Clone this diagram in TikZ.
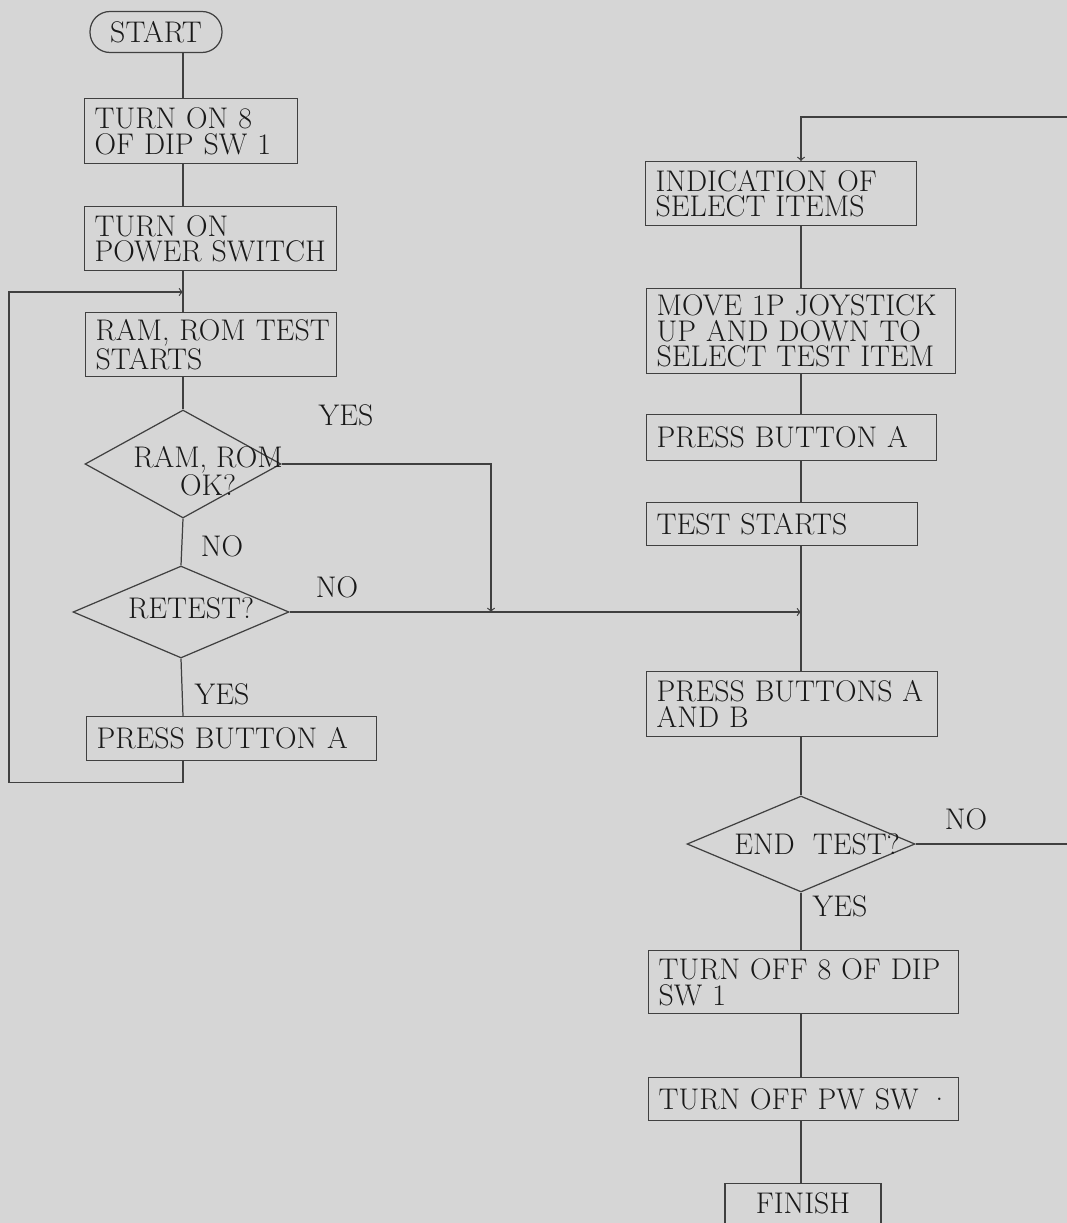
\documentclass[tikz,border=0pt]{standalone}
\usepackage{fontspec}
\usepackage{tikz}
\usetikzlibrary{shapes.geometric}

\begin{document}
\begin{tikzpicture}[
        x=0.02cm, y=-0.02cm,
        line width=0.7pt,
        every node/.style = {
            font=\fontsize{17}{14.5}\selectfont,
            text=black!90
        },
        stepbox/.style 2 args = {
            draw=black!75, anchor=north west, align=left,
            inner xsep=0.2cm, inner ysep=0pt,
            text width=#1, minimum height=#2
        },
        decision/.style 2 args = {
            draw=black!75, diamond, inner sep=0pt,
            minimum width=#1, minimum height=#2
        },
        terminal/.style = {
            draw=black!75, inner sep=0pt
        },
        answer/.style = {inner sep=1pt},
        flow/.style = {draw=black!75}]
    \path[use as bounding box, fill=black!16] (0,0) rectangle (1067,1223);
    \coordinate (lspine) at (183,0);
    \coordinate (rspine) at (801,0);

    % left column
    \node[terminal, rounded corners=0.4cm, minimum width=2.64cm, minimum height=0.82cm]
        (start) at (156,32) {START};
    \node[stepbox={3.86cm}{1.30cm}] (dipon) at (84,98) {TURN~ON~8\\OF~DIP~SW~1};
    \node[stepbox={4.64cm}{1.28cm}] (power) at (84,206) {TURN ON\\POWER~SWITCH};
    \node[stepbox={4.62cm}{1.28cm}] (romtest) at (85,312) {RAM,~ROM~TEST\\STARTS};
    \node[decision={3.92cm}{2.16cm},
        label={[align=center, xshift=0.5cm, yshift=-0.14cm]center:RAM, ROM\\OK?}]
        (romok) at (183,464) {};
    \node[decision={4.32cm}{1.84cm},
        label={[xshift=0.2cm, yshift=0.08cm]center:RETEST?}]
        (retest) at (181,612) {};
    \node[stepbox={5.40cm}{0.88cm}] (pressa) at (86,716) {PRESS~BUTTON~A};

    % right column
    \node[stepbox={5.02cm}{1.28cm}] (items) at (645,161) {INDICATION~OF\\SELECT~ITEMS};
    \node[stepbox={5.78cm}{1.70cm}] (joystick) at (646,288)
        {MOVE~1P~JOYSTICK\\UP~AND~DOWN~TO\\SELECT~TEST~ITEM};
    \node[stepbox={5.40cm}{0.92cm}] (pressa2) at (646,414) {PRESS~BUTTON~A};
    \node[stepbox={5.02cm}{0.86cm}] (teststart) at (646,502) {TEST~STARTS};
    \node[stepbox={5.42cm}{1.30cm}] (pressab) at (646,671) {PRESS~BUTTONS~A\\AND~B};
    \node[decision={4.56cm}{1.92cm},
        label={[xshift=0.32cm]center:END~~TEST?}]
        (endtest) at (801,844) {};
    \node[stepbox={5.80cm}{1.26cm}] (dipoff) at (648,950) {TURN~OFF~8~OF~DIP\\SW~1};
    \node[stepbox={5.80cm}{0.86cm}] (pwoff) at (648,1077) {TURN~OFF~PW~SW~·};
    \node[terminal, anchor=north, minimum width=3.12cm, inner ysep=0.18cm, text depth=0.6cm]
        (finish) at (803,1183) {FINISH};

    % answers
    \node[answer] (yes1) at (346,415) {YES};
    \node[answer] (no1) at (222,546) {NO};
    \node[answer] (no2) at (337,587) {NO};
    \node[answer] (yes2) at (222,694) {YES};
    \node[answer] (no3) at (966,819) {NO};
    \node[answer] (yes3) at (840,906) {YES};

    \coordinate (loopjoin) at (lspine |- 0,292);
    \coordinate (yesjoin) at (491,612);
    \coordinate (loopcorner) at (1075,117);

    % connectors
    \draw[flow] (start.south -| lspine) -- (dipon.north -| lspine);
    \draw[flow] (dipon.south -| lspine) -- (power.north -| lspine);
    \draw[flow] (power.south -| lspine) -- (romtest.north -| lspine);
    \draw[flow] (romtest.south -| lspine) -- (romok.north);
    \draw[flow] (romok.south) -- (retest.north);
    \draw[flow] (retest.south) -- (pressa.north -| lspine);
    \draw[flow, ->] (pressa.south -| lspine) -- ++(0,21) -- ++(-174,0) |- (loopjoin);
    \draw[flow, ->] (romok.east) -| (yesjoin);
    \draw[flow, ->] (retest.east) -- (retest.east -| rspine);

    \draw[flow] (items.south -| rspine) -- (joystick.north -| rspine);
    \draw[flow] (joystick.south -| rspine) -- (pressa2.north -| rspine);
    \draw[flow] (pressa2.south -| rspine) -- (teststart.north -| rspine);
    \draw[flow] (teststart.south -| rspine) -- (pressab.north -| rspine);
    \draw[flow] (pressab.south -| rspine) -- (endtest.north);
    \draw[flow] (endtest.south) -- (dipoff.north -| rspine);
    \draw[flow] (dipoff.south -| rspine) -- (pwoff.north -| rspine);
    \draw[flow] (pwoff.south -| rspine) -- (finish.north -| rspine);
    \draw[flow, ->] (endtest.east) -| (loopcorner) -| (items.north -| rspine);
\end{tikzpicture}
\end{document}
